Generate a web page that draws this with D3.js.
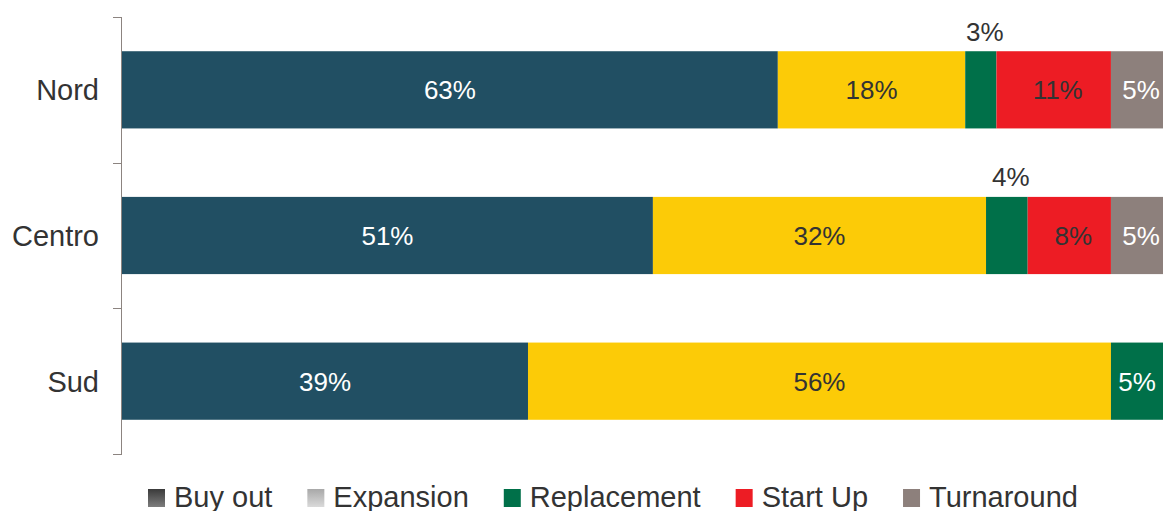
<!DOCTYPE html>
<html>
<head>
<meta charset="utf-8">
<script src="https://cdn.jsdelivr.net/npm/d3@7"></script>
<style>
  html, body { margin: 0; padding: 0; background: #fff; }
  svg { display: block; font-family: "Liberation Sans", Arial, Helvetica, sans-serif; }
</style>
</head>
<body>
<svg id="chart" width="1165" height="511"></svg>
<script>
// Regions and the share (%) of deals by type in each one
const regions = ["Nord", "Centro", "Sud"];
const seriesNames = ["Buy out", "Expansion", "Replacement", "Start Up", "Turnaround"];
const buyOut      = [63, 51, 39];
const expansion   = [18, 32, 56];
const replacement = [3, 4, 5];
const startUp     = [11, 8, 0];
const turnaround  = [5, 5, 0];

const barColors = {
  "Buy out": "#214f63",
  "Expansion": "#fccb07",
  "Replacement": "#007049",
  "Start Up": "#ed1c24",
  "Turnaround": "#8d807c"
};
// label colour per series; small Replacement slices get their label above the bar
const labelColors = {
  "Buy out": "#ffffff",
  "Expansion": "#333333",
  "Replacement": "#ffffff",
  "Start Up": "#333333",
  "Turnaround": "#ffffff"
};

const rows = regions.map((r, i) => ({
  region: r,
  "Buy out": buyOut[i],
  "Expansion": expansion[i],
  "Replacement": replacement[i],
  "Start Up": startUp[i],
  "Turnaround": turnaround[i]
}));

const svg = d3.select("#chart");
const plotLeft = 122, plotRight = 1163, plotTop = 17, plotBottom = 454;

const x = d3.scaleLinear().domain([0, 100]).range([plotLeft, plotRight]);
const y = d3.scaleBand().domain(regions).range([plotTop, plotBottom]).paddingInner(0.47).paddingOuter(0.235);

const stacked = d3.stack().keys(seriesNames)(rows);

// bars
const layers = svg.append("g").selectAll("g")
  .data(stacked).join("g")
  .attr("fill", d => barColors[d.key]);

layers.selectAll("rect")
  .data(d => d.map(p => ({ key: d.key, p })))
  .join("rect")
  .attr("x", d => x(d.p[0]))
  .attr("y", d => y(d.p.data.region))
  .attr("width", d => Math.max(0, x(d.p[1]) - x(d.p[0])))
  .attr("height", y.bandwidth());

// value labels
const labels = [];
stacked.forEach(layer => {
  layer.forEach(p => {
    const v = p[1] - p[0];
    if (v <= 0) return;
    const small = layer.key === "Replacement" && v < 5;
    labels.push({
      text: v + "%",
      cx: (x(p[0]) + x(p[1])) / 2 + (small || layer.key === "Start Up" || layer.key === "Turnaround" ? 4 : 0),
      cy: small ? y(p.data.region) - 20 : y(p.data.region) + y.bandwidth() / 2,
      color: small ? "#333333" : labelColors[layer.key]
    });
  });
});

svg.append("g").selectAll("text")
  .data(labels).join("text")
  .attr("x", d => d.cx)
  .attr("y", d => d.cy)
  .attr("dy", "0.36em")
  .attr("text-anchor", "middle")
  .attr("font-size", 26)
  .attr("fill", d => d.color)
  .text(d => d.text);

// category axis: vertical line with ticks between bands
const axisColor = "#8c8480";
const axisG = svg.append("g");
axisG.append("line")
  .attr("x1", plotLeft - 0.5).attr("x2", plotLeft - 0.5)
  .attr("y1", plotTop).attr("y2", plotBottom)
  .attr("stroke", axisColor).attr("stroke-width", 1);
const tickYs = d3.range(regions.length + 1).map(i => plotTop + i * y.step());
axisG.selectAll("line.tick")
  .data(tickYs).join("line")
  .attr("class", "tick")
  .attr("x1", plotLeft - 9).attr("x2", plotLeft)
  .attr("y1", d => Math.round(d) + 0.5).attr("y2", d => Math.round(d) + 0.5)
  .attr("stroke", axisColor).attr("stroke-width", 1);

svg.append("g").selectAll("text")
  .data(regions).join("text")
  .attr("x", 99)
  .attr("y", d => y(d) + y.bandwidth() / 2)
  .attr("dy", "0.36em")
  .attr("text-anchor", "end")
  .attr("font-size", 29)
  .attr("fill", "#333333")
  .text(d => d);

// legend
const defs = svg.append("defs");
const gradBuy = defs.append("linearGradient").attr("id", "gBuy").attr("x1", 0).attr("y1", 0).attr("x2", 0).attr("y2", 1);
gradBuy.append("stop").attr("offset", "0%").attr("stop-color", "#3a3a3a");
gradBuy.append("stop").attr("offset", "100%").attr("stop-color", "#7d7d7d");
const gradExp = defs.append("linearGradient").attr("id", "gExp").attr("x1", 0).attr("y1", 0).attr("x2", 0).attr("y2", 1);
gradExp.append("stop").attr("offset", "0%").attr("stop-color", "#a8a8a8");
gradExp.append("stop").attr("offset", "100%").attr("stop-color", "#dadada");

const legendFill = {
  "Buy out": "url(#gBuy)",
  "Expansion": "url(#gExp)",
  "Replacement": barColors["Replacement"],
  "Start Up": barColors["Start Up"],
  "Turnaround": barColors["Turnaround"]
};

const legend = svg.append("g");
let lx = 148;
seriesNames.forEach(name => {
  const g = legend.append("g").attr("transform", `translate(${lx},0)`);
  g.append("rect").attr("x", 0).attr("y", 489).attr("width", 17).attr("height", 18).attr("fill", legendFill[name]);
  const t = g.append("text")
    .attr("x", 26).attr("y", 507)
    .attr("font-size", 29)
    .attr("fill", "#333333")
    .text(name);
  lx += 26 + t.node().getComputedTextLength() + 35;
});
</script>
</body>
</html>
